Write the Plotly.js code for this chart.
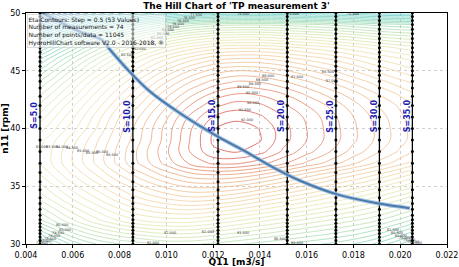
<!DOCTYPE html>
<html><head><meta charset="utf-8">
<script src="https://cdn.plot.ly/plotly-3.0.1.min.js"></script>
<style>html,body{margin:0;padding:0;background:#fff}#chart{width:459px;height:267px}</style>
</head><body><div id="chart"></div>
<script>
// ---- data ----
const gridQ = [0.0046, 0.005, 0.006, 0.007, 0.008, 0.009, 0.010, 0.011, 0.012, 0.013, 0.014, 0.015, 0.016, 0.017, 0.018, 0.019, 0.020, 0.0205];
const gridN = [30, 32, 34, 36, 37, 38, 39, 40, 41, 42, 43, 44, 45, 46, 47, 48, 49, 50];
const etaGrid = [
  [77.1, 77.8, 79.2, 80.0, 80.5, 80.8, 81.1, 81.1, 80.9, 80.6, 80.3, 80.0, 79.7, 79.4, 79.0, 78.4, 77.5, 77.0],
  [80.3, 80.8, 81.9, 82.8, 83.5, 84.0, 84.2, 84.2, 83.9, 83.5, 83.1, 82.7, 82.3, 81.9, 81.5, 81.0, 80.3, 79.9],
  [82.2, 82.6, 83.6, 84.5, 85.4, 86.1, 86.6, 86.9, 86.8, 86.5, 86.0, 85.5, 85.0, 84.5, 84.0, 83.4, 82.7, 82.35],
  [83.5, 83.9, 85.0, 86.0, 87.0, 87.9, 88.7, 89.3, 89.5, 89.4, 89.0, 88.4, 87.8, 87.2, 86.6, 86.0, 85.3, 84.95],
  [84.0, 84.4, 85.5, 86.6, 87.7, 88.7, 89.7, 90.6, 91.1, 91.1, 90.7, 90.1, 89.4, 88.8, 88.1, 87.4, 86.7, 86.35],
  [84.0, 84.4, 85.5, 86.6, 87.7, 88.8, 89.9, 91.0, 91.9, 92.05, 91.7, 90.9, 90.2, 89.5, 88.8, 88.1, 87.4, 87.05],
  [83.8, 84.2, 85.3, 86.4, 87.5, 88.6, 89.75, 91.0, 92.1, 92.28, 92.05, 91.2, 90.5, 89.8, 89.1, 88.4, 87.7, 87.35],
  [83.3, 83.7, 84.8, 86.0, 87.3, 88.5, 89.7, 90.9, 91.98, 92.25, 91.98, 91.2, 90.5, 89.8, 89.1, 88.4, 87.7, 87.35],
  [82.7, 83.2, 84.4, 85.7, 87.0, 88.2, 89.4, 90.6, 91.5, 91.85, 91.6, 91.0, 90.4, 89.7, 89.0, 88.3, 87.6, 87.3],
  [82.1, 82.6, 83.9, 85.2, 86.5, 87.7, 88.9, 90.0, 90.85, 91.25, 91.1, 90.6, 90.0, 89.4, 88.7, 88.0, 87.4, 87.1],
  [81.4, 81.9, 83.2, 84.6, 85.9, 87.1, 88.3, 89.3, 90.1, 90.5, 90.4, 90.0, 89.4, 88.8, 88.2, 87.5, 86.9, 86.6],
  [80.6, 81.1, 82.5, 83.9, 85.2, 86.4, 87.5, 88.5, 89.2, 89.6, 89.5, 89.1, 88.6, 88.0, 87.4, 86.8, 86.2, 85.95],
  [79.6, 80.2, 81.6, 83.0, 84.3, 85.5, 86.6, 87.5, 88.2, 88.5, 88.4, 88.1, 87.6, 87.1, 86.5, 85.9, 85.4, 85.15],
  [78.5, 79.1, 80.6, 82.0, 83.3, 84.5, 85.5, 86.3, 86.9, 87.1, 87.1, 86.8, 86.4, 86.0, 85.5, 85.0, 84.6, 84.4],
  [77.0, 77.6, 79.2, 80.7, 82.0, 83.1, 84.0, 84.7, 85.2, 85.4, 85.4, 85.2, 84.9, 84.6, 84.2, 83.8, 83.4, 83.25],
  [74.8, 75.5, 77.2, 78.7, 80.0, 81.1, 82.0, 82.7, 83.1, 83.3, 83.3, 83.1, 82.9, 82.6, 82.3, 81.9, 81.6, 81.5],
  [72.1, 72.8, 74.6, 76.2, 77.6, 78.7, 79.6, 80.3, 80.7, 80.9, 80.9, 80.8, 80.6, 80.4, 80.1, 79.8, 79.6, 79.55],
  [68.7, 69.5, 71.5, 73.0, 74.3, 75.2, 75.8, 76.2, 76.4, 76.5, 76.5, 76.4, 76.3, 76.2, 76.0, 75.7, 75.6, 75.6]
];

const speedQ = [0.0046, 0.00857, 0.01221, 0.01517, 0.01725, 0.01911, 0.02052];
const speedNames = ['S=5.0', 'S=10.0', 'S=15.0', 'S=20.0', 'S=25.0', 'S=30.0', 'S=35.0'];
const dotN = [30, 30.3, 30.6, 30.9, 31.2, 31.5, 31.8, 32.1, 32.5, 33, 33.5, 34, 34.7, 35.4, 36.2, 37, 38, 39, 40, 41, 42, 42.8, 43.5, 44.1, 44.6, 45, 45.4, 45.8, 46.2, 46.6, 47, 47.4, 47.8, 48.2, 48.6, 49, 49.35, 49.7, 50];

const bestQ = [0.0047, 0.0064, 0.00725, 0.0076, 0.0083, 0.0093, 0.0106, 0.0122, 0.0133, 0.0146, 0.0157, 0.0173, 0.0191, 0.0204];
const bestN = [50.0, 48.3, 47.66, 46.8, 45.2, 43.2, 41.3, 39.3, 38.1, 36.6, 35.5, 34.3, 33.5, 33.1];

const labelQ = [0.00832, 0.00887, 0.00926, 0.0096, 0.00986, 0.01007, 0.01029, 0.0105, 0.01071, 0.01097, 0.01127,
  0.01328, 0.01542, 0.01798,
  0.01559, 0.01435, 0.01409, 0.01379, 0.01328, 0.01366, 0.01371, 0.01336, 0.01345, 0.01691, 0.01708,
  0.00468, 0.00511, 0.00554, 0.00597, 0.00644, 0.00682, 0.00725, 0.00768,
  0.01016, 0.01178, 0.00943, 0.01328, 0.01486, 0.01559,
  0.00554, 0.00567, 0.00537, 0.0052, 0.00503, 0.00486, 0.00468,
  0.01969, 0.01986, 0.02003, 0.0202, 0.02038, 0.02055, 0.02067];
const labelN = [46.36, 46.88, 47.40, 47.84, 48.18, 48.53, 48.79, 49.05, 49.31, 49.57, 49.83,
  49.93, 49.93, 49.93,
  44.46, 44.55, 44.2, 43.85, 43.59, 43.07, 42.21, 41.6, 40.74, 44.89, 44.11,
  38.40, 38.40, 38.40, 38.31, 38.05, 37.88, 37.97, 37.71,
  30.95, 31.04, 30.09, 30.95, 30.43, 30.09,
  31.64, 31.21, 30.95, 30.69, 30.43, 30.26, 30.09,
  31.21, 30.95, 30.69, 30.52, 30.35, 30.17, 30.09];
const labelText = ['82.500', '82.000', '81.500', '81.000', '80.500', '80.000', '79.500', '79.000', '78.500', '78.000', '77.500',
  '75.000', '75.000', '75.000',
  '87.500', '88.000', '88.500', '89.000', '89.500', '90.000', '90.500', '91.500', '92.000', '86.500', '87.000',
  '83.000', '83.500', '84.000', '84.500', '85.000', '85.500', '86.000', '86.500',
  '82.500', '82.000', '81.000', '81.500', '80.500', '80.000',
  '80.500', '80.000', '79.500', '79.000', '78.500', '78.000', '77.500',
  '81.000', '80.500', '80.000', '79.500', '79.000', '78.500', '78.000'];

const xTicks = [0.004, 0.006, 0.008, 0.010, 0.012, 0.014, 0.016, 0.018, 0.020, 0.022];
const yTicks = [30, 35, 40, 45, 50];
const infoLines = ['Eta Contours: Step = 0.5 (53 Values)', 'Number of measurements = 74', 'Number of points/data = 11045', 'HydroHillChart software V2.0 - 2016-2018, \u00ae'];

// ---- chart ----
const F = 'DejaVu Sans, Verdana, sans-serif';
const zmin = 66, zmax = 92;
const cs = [[0, '#2b2b8c'], [0.154, '#3b7ac0'], [0.308, '#3fc0cc'], [0.385, '#48c4c2'], [0.462, '#66cab2'],
  [0.538, '#92d6a4'], [0.615, '#c6e2a0'], [0.692, '#e8e4a4'], [0.769, '#f2cc92'], [0.846, '#eeb27c'],
  [0.885, '#e89a68'], [0.923, '#e07850'], [0.9615, '#dc5a40'], [1, '#d03028']];

const traces = [];
traces.push({
  type: 'contour', x: gridQ, y: gridN, z: etaGrid, zmin: zmin, zmax: zmax,
  autocontour: false, contours: {coloring: 'lines', start: 66, end: 92, size: 0.5, showlabels: false},
  line: {width: 0.9, smoothing: 1.1}, colorscale: cs, showscale: false, opacity: 0.75, hoverinfo: 'skip'
});
traces.push({
  type: 'scatter', mode: 'text', x: labelQ, y: labelN, text: labelText,
  textfont: {family: F, size: 3.5, color: '#333'}, hoverinfo: 'skip', showlegend: false, cliponaxis: false
});
speedQ.forEach((q) => {
  traces.push({
    type: 'scatter', mode: 'lines+markers', x: dotN.map(() => q), y: dotN,
    line: {color: '#000', width: 1.3}, marker: {color: '#000', size: 3}, hoverinfo: 'skip', showlegend: false
  });
});
traces.push({type: 'scatter', mode: 'lines', x: bestQ, y: bestN, line: {color: 'rgba(160,192,225,0.9)', width: 4, shape: 'spline'}, hoverinfo: 'skip', showlegend: false});
traces.push({type: 'scatter', mode: 'lines', x: bestQ, y: bestN, line: {color: '#4a7aab', width: 2, shape: 'spline'}, hoverinfo: 'skip', showlegend: false});

const annotations = speedQ.map((q, i) => ({
  x: q, y: 41.1, xref: 'x', yref: 'y', text: speedNames[i], showarrow: false, textangle: -90,
  xshift: -5, font: {family: F, size: 8, color: '#1c1cb0', weight: 'bold'}
}));
annotations.push({
  xref: 'paper', yref: 'paper', x: 0, y: 1, xanchor: 'left', yanchor: 'top', xshift: 1, yshift: -1,
  text: infoLines.join('<br>'), align: 'left', showarrow: false,
  font: {family: F, size: 6, color: '#111'}, bgcolor: 'rgba(255,255,255,0.55)', bordercolor: 'rgba(170,170,170,0.8)', borderwidth: 0.5, borderpad: 1
});

const axisCommon = {
  showline: true, mirror: true, linecolor: '#000', linewidth: 1, ticks: 'outside', ticklen: 3, tickcolor: '#000',
  showgrid: true, gridcolor: '#c4c4c4', griddash: 'dot', gridwidth: 0.8, zeroline: false,
  tickfont: {family: F, size: 8, color: '#000'}
};
const layout = {
  width: 459, height: 267, margin: {l: 26, r: 12, t: 13, b: 23},
  paper_bgcolor: '#fff', plot_bgcolor: '#fff', showlegend: false,
  title: {text: "The Hill Chart of 'TP measurement 3'", font: {family: F, size: 9, color: '#000', weight: 'bold'},
    x: 0.5, xref: 'paper', xanchor: 'center', y: 0.978, yref: 'container', yanchor: 'middle'},
  xaxis: Object.assign({}, axisCommon, {range: [0.004, 0.022], tickvals: xTicks, tickformat: '.3f',
    title: {text: 'Q11 [m3/s]', font: {family: F, size: 9, color: '#000', weight: 'bold'}, standoff: 2}}),
  yaxis: Object.assign({}, axisCommon, {range: [30, 50], tickvals: yTicks,
    title: {text: 'n11 [rpm]', font: {family: F, size: 9, color: '#000', weight: 'bold'}, standoff: 3}}),
  annotations: annotations
};
Plotly.newPlot('chart', traces, layout, {staticPlot: true, displayModeBar: false});
</script></body></html>
